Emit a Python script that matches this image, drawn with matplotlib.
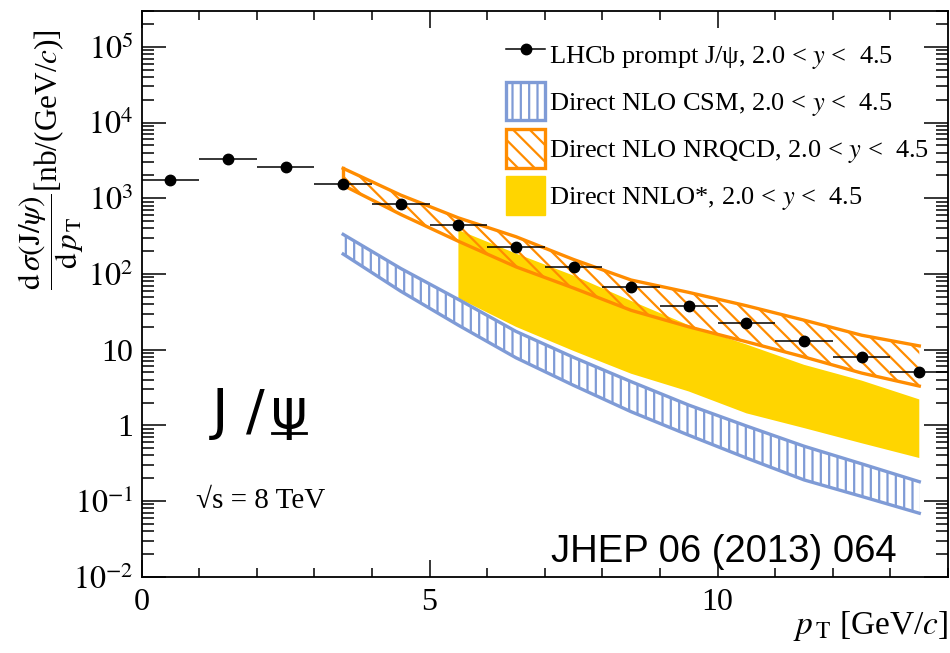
import numpy as np
import matplotlib
matplotlib.use("Agg")
import matplotlib.pyplot as plt
from matplotlib.lines import Line2D
from matplotlib.patches import Patch
from matplotlib.ticker import LogLocator, FixedLocator, FuncFormatter, NullFormatter

plt.rcParams['font.family'] = ['Liberation Serif', 'DejaVu Serif']
plt.rcParams['mathtext.fontset'] = 'stix'
plt.rcParams['hatch.linewidth'] = 1.6

# LHCb prompt J/psi, 8 TeV (bin centres, half width 0.5)
pt = [0.5, 1.5, 2.5, 3.5, 4.5, 5.5, 6.5, 7.5, 8.5, 9.5, 10.5, 11.5, 12.5, 13.5]
xsec = [1740, 3270, 2600, 1550, 845, 438, 229, 122, 67.8, 37.7, 22.2, 13.1, 8.06, 5.1]

# theory bands
pt_th = [3.5, 4.5, 5.5, 6.5, 7.5, 8.5, 9.5, 10.5, 11.5, 12.5, 13.5]
csm_hi = [333, 118, 46, 17.4, 7.9, 3.77, 1.85, 0.98, 0.53, 0.31, 0.18]
csm_lo = [183, 59, 21, 7.8, 3.37, 1.51, 0.74, 0.37, 0.19, 0.115, 0.069]
nrqcd_hi = [2480, 1100, 550, 310, 155, 83, 57, 38, 24.5, 15.5, 11.2]
nrqcd_lo = [1480, 610, 270, 124, 65, 33, 20, 12.7, 8, 4.9, 3.3]

pt_nnlo = [5.5, 6.5, 7.5, 8.5, 9.5, 10.5, 11.5, 12.5, 13.5]
nnlo_hi = [380, 186, 95, 44, 21, 11.7, 6.3, 3.9, 2.2]
nnlo_lo = [47.7, 20, 9.6, 4.8, 2.8, 1.44, 0.92, 0.58, 0.37]

blue = '#7f9bd6'
orange = '#ff8c00'
yellow = '#ffd500'

fig = plt.figure(figsize=(9.5, 6.53), dpi=100)
ax = fig.add_axes([0.149, 0.1168, 0.849, 0.8668])

# NNLO* (solid yellow)
ax.fill_between(pt_nnlo, nnlo_lo, nnlo_hi, facecolor=yellow, edgecolor='none', lw=0, zorder=1)

# CSM (vertical hatch)
ax.fill_between(pt_th, csm_lo, csm_hi, facecolor='none', edgecolor=blue, hatch='||', lw=0, zorder=2)
ax.plot(pt_th, csm_hi, color=blue, lw=2.4, zorder=2)
ax.plot(pt_th, csm_lo, color=blue, lw=2.4, zorder=2)

# NRQCD (diagonal hatch)
ax.fill_between(pt_th, nrqcd_lo, nrqcd_hi, facecolor='none', edgecolor=orange, hatch='\\\\', lw=0, zorder=3)
ax.plot(pt_th, nrqcd_hi, color=orange, lw=2.4, zorder=3)
ax.plot(pt_th, nrqcd_lo, color=orange, lw=2.4, zorder=3)
ax.plot([pt_th[0], pt_th[0]], [nrqcd_lo[0], nrqcd_hi[0]], color=orange, lw=2.4, zorder=3)

# data
ax.errorbar(pt, xsec, xerr=0.5, fmt='o', color='black', ms=7.5, elinewidth=1.1, capsize=0, zorder=5)

ax.set_yscale('log')
ax.set_xlim(0, 14)
ax.set_ylim(1e-2, 3e5)

ax.xaxis.set_major_locator(FixedLocator([0, 5, 10]))
ax.xaxis.set_minor_locator(FixedLocator(np.arange(0, 15, 1)))
ax.yaxis.set_major_locator(FixedLocator([1e-2, 1e-1, 1, 10, 1e2, 1e3, 1e4, 1e5]))
ax.yaxis.set_minor_locator(LogLocator(base=10, subs=np.arange(2, 10), numticks=20))
ax.yaxis.set_minor_formatter(NullFormatter())


def ylab(v, pos):
    e = int(round(np.log10(v)))
    if e == 0:
        return '1'
    if e == 1:
        return '10'
    return r'$10^{%d}$' % e


ax.yaxis.set_major_formatter(FuncFormatter(ylab))
ax.tick_params(which='both', direction='in', top=True, right=True, width=1.1, labelsize=23)
ax.tick_params(axis='y', which='major', length=17, pad=6)
ax.tick_params(axis='y', which='minor', length=8.5)
ax.tick_params(axis='x', which='major', length=12, pad=8)
ax.tick_params(axis='x', which='minor', length=6.5)
for s in ax.spines.values():
    s.set_linewidth(1.3)

# axis titles
fig.text(0.054, 1 - 160 / 653,
         r'$\dfrac{\mathrm{d}\,\sigma(\mathrm{J}/\psi)}{\mathrm{d}\,p_{\,\mathrm{T}}}$[nb/(GeV/$c$)]',
         rotation=90, ha='center', va='center', fontsize=22.5)
fig.text(0.998, 1 - 626 / 653, r'$p_{\,\mathrm{T}}$ [GeV/$c$]', ha='right', va='center', fontsize=24)

# annotations
fig.text(220 / 950, 1 - 428 / 653, 'J', fontsize=40, family='DejaVu Sans', ha='center', va='baseline')
fig.text(255 / 950, 1 - 428 / 653, '/', fontsize=40, family='DejaVu Sans', ha='center', va='baseline')
fig.text(289 / 950, 1 - 428 / 653, 'ψ', fontsize=40, family='DejaVu Sans', ha='center', va='baseline')
ax.plot([0.1615, 0.2037], [0.254, 0.254], color='black', lw=2, transform=ax.transAxes)
ax.text(0.067, 0.133, '√s = 8 TeV', transform=ax.transAxes, fontsize=21,
        ha='left', va='center')
ax.text(0.722, 0.043, 'JHEP 06 (2013) 064', transform=ax.transAxes, fontsize=27.5,
        family='Liberation Sans', ha='center', va='center')

handles = [
    Line2D([], [], color='black', marker='o', ms=7.5, lw=1.1),
    Patch(facecolor='white', edgecolor=blue, hatch='||', lw=2.4),
    Patch(facecolor='white', edgecolor=orange, hatch='\\\\', lw=2.4),
    Patch(facecolor=yellow, edgecolor=yellow, lw=1),
]
labels = [
    r'LHCb prompt J/ψ, 2.0 < $y$ <  4.5',
    r'Direct NLO CSM, 2.0 < $y$ <  4.5',
    r'Direct NLO NRQCD, 2.0 < $y$ <  4.5',
    r'Direct NNLO*, 2.0 < $y$ <  4.5',
]
ax.legend(handles, labels, loc='upper left', bbox_to_anchor=(0.452, 0.957), frameon=False,
          fontsize=19, borderpad=0, borderaxespad=0, handlelength=1.48, handleheight=1.86,
          handletextpad=0.15, labelspacing=0.33)

fig.savefig('out.png', dpi=100)
